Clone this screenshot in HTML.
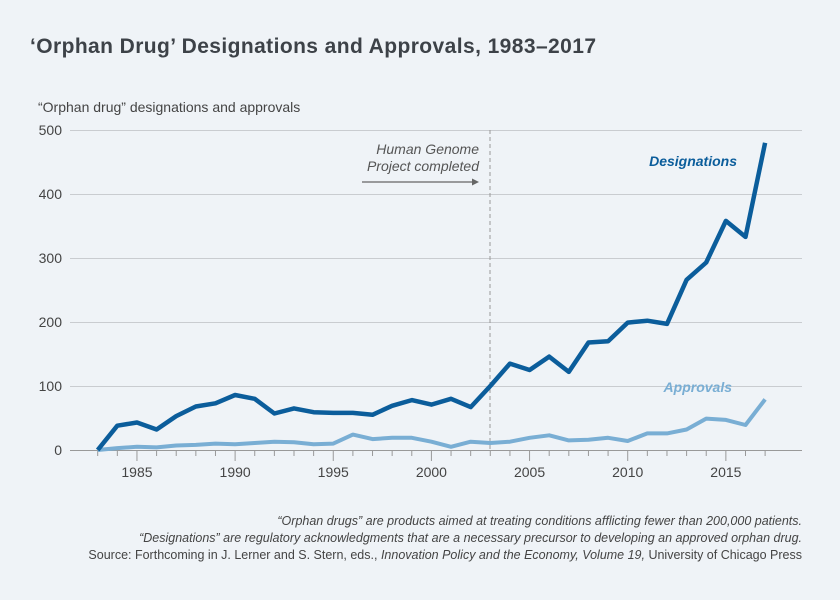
<!DOCTYPE html>
<html><head><meta charset="utf-8"><style>
body{margin:0;background:#eff3f7;}
svg{display:block;font-family:"Liberation Sans",sans-serif;}
</style></head><body>
<svg id="s" width="840" height="600" viewBox="0 0 840 600" xmlns="http://www.w3.org/2000/svg">
<rect width="840" height="600" fill="#eff3f7"/>
<text x="30" y="53" font-size="21" fill="#3d4248" font-weight="bold" textLength="566">‘Orphan Drug’ Designations and Approvals, 1983–2017</text>
<text x="38" y="112" font-size="14" fill="#444">“Orphan drug” designations and approvals</text>
<g stroke="#c9ccd0" stroke-width="1">
<line x1="70" x2="802" y1="130.5" y2="130.5"/>
<line x1="70" x2="802" y1="194.5" y2="194.5"/>
<line x1="70" x2="802" y1="258.5" y2="258.5"/>
<line x1="70" x2="802" y1="322.5" y2="322.5"/>
<line x1="70" x2="802" y1="386.5" y2="386.5"/>
</g>
<line x1="70" x2="802" y1="450.5" y2="450.5" stroke="#999" stroke-width="1"/>
<g font-size="14" fill="#444" text-anchor="end">
<text x="62" y="135">500</text><text x="62" y="199">400</text><text x="62" y="263">300</text>
<text x="62" y="327">200</text><text x="62" y="391">100</text><text x="62" y="455">0</text>
</g>
<g id="xt" font-size="14" fill="#444" text-anchor="middle"></g>
<line x1="490" x2="490" y1="130" y2="450" stroke="#999" stroke-dasharray="4,3"/>
<g font-size="14" fill="#555" font-style="italic" text-anchor="end">
<text x="479" y="154">Human Genome</text><text x="479" y="171">Project completed</text>
</g>
<line x1="362" x2="475" y1="182" y2="182" stroke="#666" stroke-width="1.2"/>
<polygon points="479,182 472,178.5 472,185.5" fill="#666"/>
<path id="ap" fill="none" stroke="#79aed4" stroke-width="4" stroke-linejoin="round"/>
<path id="de" fill="none" stroke="#0b5d9b" stroke-width="4.5" stroke-linejoin="round"/>
<text x="737" y="166" font-size="14" font-weight="bold" font-style="italic" fill="#0b5d9b" text-anchor="end">Designations</text>
<text x="732" y="392" font-size="14" font-weight="bold" font-style="italic" fill="#79aed4" text-anchor="end">Approvals</text>
<g font-size="12.5" fill="#444" text-anchor="end">
<text x="802" y="525" font-style="italic">“Orphan drugs” are products aimed at treating conditions afflicting fewer than 200,000 patients.</text>
<text x="802" y="542" font-style="italic">“Designations” are regulatory acknowledgments that are a necessary precursor to developing an approved orphan drug.</text>
<text x="802" y="559">Source: Forthcoming in J. Lerner and S. Stern, eds., <tspan font-style="italic">Innovation Policy and the Economy, Volume 19,</tspan> University of Chicago Press</text>
</g>
</svg>
<script>
var d=[0,38,43,32,53,68,73,86,80,57,65,59,58,58,55,69,78,71,80,67,100,135,125,146,122,168,170,199,202,197,266,293,358,333,480];
var a=[0,3,5,4,7,8,10,9,11,13,12,9,10,24,17,19,19,13,5,13,11,13,19,23,15,16,19,14,26,26,32,49,47,39,79];
function X(i){return 97.7+i*19.63;}function Y(v){return 450-v*0.64;}
function p(arr){return arr.map(function(v,i){return (i?'L':'M')+X(i).toFixed(1)+','+Y(v).toFixed(1);}).join('');}
document.getElementById('de').setAttribute('d',p(d));
document.getElementById('ap').setAttribute('d',p(a));
var g=document.getElementById('xt'),h='';
for(var y=1983;y<=2017;y++){var x=X(y-1983);h+='<line x1="'+x+'" x2="'+x+'" y1="451" y2="'+(y%5==0?461:456)+'" stroke="#999"/>';if(y%5==0)h+='<text x="'+x+'" y="477">'+y+'</text>';}
g.innerHTML=h;
</script>
</body></html>
